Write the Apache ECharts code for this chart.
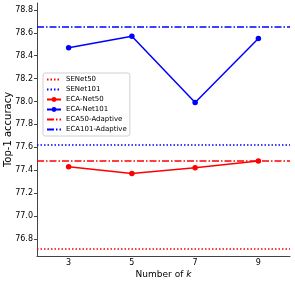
<!DOCTYPE html>
<html><head><meta charset="utf-8">
<script src="https://cdn.jsdelivr.net/npm/echarts@6/dist/echarts.min.js"></script>
<style>html,body{margin:0;padding:0;background:#fff}#c{width:295px;height:282px}</style>
</head><body><div id="c"></div>
<script>
const kValues = ['3', '5', '7', '9'];
const ecaNet50 = [77.43, 77.37, 77.42, 77.48];
const ecaNet101 = [78.47, 78.57, 77.99, 78.55];
const seNet50 = 76.71;
const seNet101 = 77.62;
const eca50Adaptive = 77.48;
const eca101Adaptive = 78.65;
const yTicks = [76.8, 77.0, 77.2, 77.4, 77.6, 77.8, 78.0, 78.2, 78.4, 78.6, 78.8];

const RED = '#ff0000', BLUE = '#0000ff';
const DOT = [1.5, 2];
const DASHDOT = [7, 2, 1.5, 2];
const font = 'DejaVu Sans';

function refSeries(name, value, color, dash) {
  return {
    name: name, type: 'line', data: [], symbol: 'none',
    lineStyle: {color: color, width: 1.5, type: dash},
    itemStyle: {color: color},
    markLine: {
      silent: true, symbol: 'none', label: {show: false},
      lineStyle: {color: color, width: 1.5, type: dash},
      data: [{yAxis: value}]
    },
    z: 1
  };
}
function refLegend(name) {
  return {name: name, itemStyle: {opacity: 0}};
}

const chart = echarts.init(document.getElementById('c'), null, {renderer: 'canvas'});
chart.setOption({
  animation: false,
  grid: {left: 37, right: 5, top: 3, bottom: 26, containLabel: false, outerBoundsMode: 'none'},
  legend: {
    orient: 'vertical', left: 43, top: 73,
    padding: [3, 3, 3, 3],
    itemWidth: 14, itemHeight: 6, itemGap: 3,
    borderColor: '#d0d0d0', borderWidth: 1, borderRadius: 2,
    backgroundColor: '#fff',
    textStyle: {fontFamily: font, fontSize: 7, color: '#000', lineHeight: 6},
    data: [refLegend('SENet50'), refLegend('SENet101'), 'ECA-Net50', 'ECA-Net101',
           refLegend('ECA50-Adaptive'), refLegend('ECA101-Adaptive')]
  },
  xAxis: {
    type: 'category', data: kValues, boundaryGap: true,
    name: 'Number of {i|k}', nameLocation: 'middle', nameGap: 14, nameMoveOverlap: false,
    nameTextStyle: {fontFamily: font, fontSize: 9, color: '#000',
      rich: {i: {fontFamily: font, fontSize: 9, fontStyle: 'italic', color: '#000'}}},
    axisLine: {lineStyle: {color: '#444', width: 1}},
    axisTick: {alignWithLabel: true, length: 3, lineStyle: {color: '#444'}},
    axisLabel: {fontFamily: font, fontSize: 8, color: '#000', margin: 3},
    splitLine: {show: false}
  },
  yAxis: {
    type: 'value', min: 76.65, max: 78.86,
    name: 'Top-1 accuracy', nameLocation: 'middle', nameGap: 24, nameMoveOverlap: false,
    nameTextStyle: {fontFamily: font, fontSize: 10, color: '#000'},
    axisLine: {show: true, lineStyle: {color: '#444', width: 1}},
    axisTick: {show: true, length: 3, customValues: yTicks, lineStyle: {color: '#444'}},
    axisLabel: {fontFamily: font, fontSize: 8, color: '#000', margin: 4, customValues: yTicks,
      formatter: v => v.toFixed(1)},
    splitLine: {show: false}
  },
  series: [
    refSeries('SENet50', seNet50, RED, DOT),
    refSeries('SENet101', seNet101, BLUE, DOT),
    {name: 'ECA-Net50', type: 'line', data: ecaNet50, symbol: 'circle', symbolSize: 5.5,
     lineStyle: {color: RED, width: 1.5}, itemStyle: {color: RED}, z: 3},
    {name: 'ECA-Net101', type: 'line', data: ecaNet101, symbol: 'circle', symbolSize: 5.5,
     lineStyle: {color: BLUE, width: 1.5}, itemStyle: {color: BLUE}, z: 3},
    refSeries('ECA50-Adaptive', eca50Adaptive, RED, DASHDOT),
    refSeries('ECA101-Adaptive', eca101Adaptive, BLUE, DASHDOT)
  ]
});
</script></body></html>
